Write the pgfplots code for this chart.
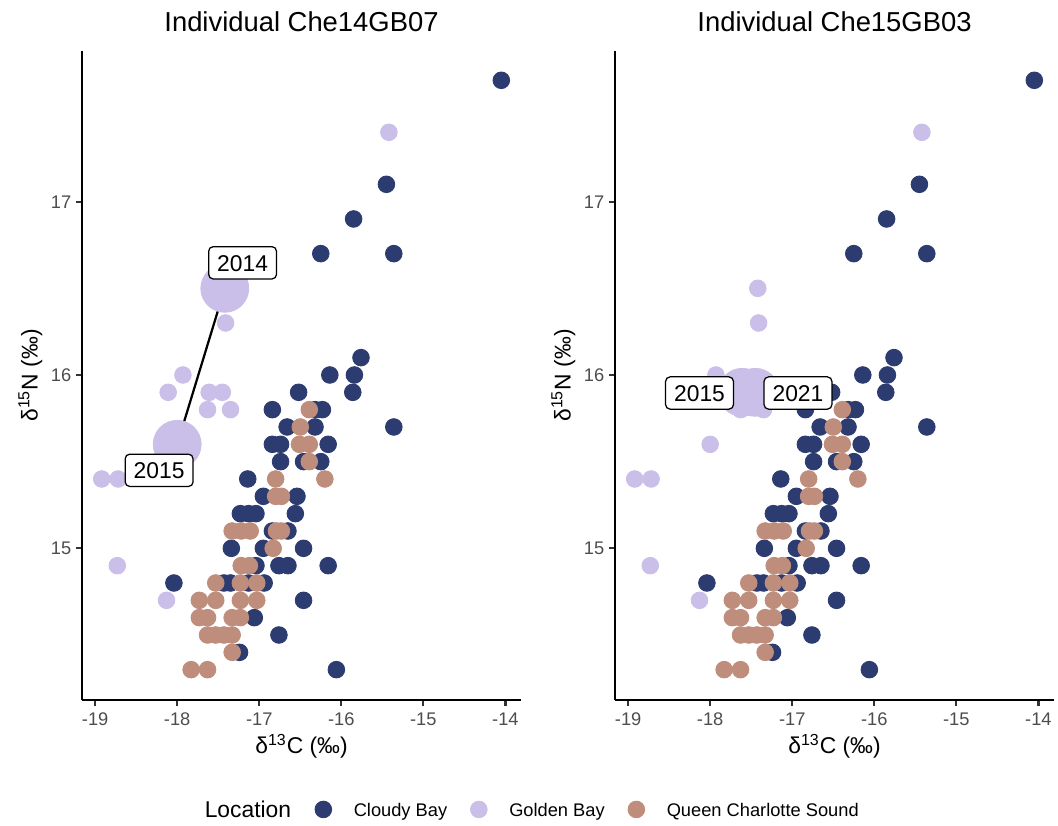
\documentclass[border=0pt]{standalone}
\usepackage{pgfplots}
\usepackage{pgfplotstable}
\pgfplotsset{compat=1.18}
\usepackage{fontspec}
\setmainfont{Liberation Sans}
\definecolor{cb}{RGB}{44,59,112}
\definecolor{gb}{RGB}{202,191,232}
\definecolor{qcs}{RGB}{191,141,124}
\definecolor{ticklab}{RGB}{77,77,77}
\definecolor{tickcol}{RGB}{51,51,51}

\pgfplotstableread{
x y
-14.05 17.7
-15.45 17.1
-15.85 16.9
-16.25 16.7
-15.36 16.7
-15.76 16.1
-16.14 16.0
-15.84 16.0
-16.52 15.9
-15.86 15.9
-16.84 15.8
-16.32 15.8
-16.23 15.8
-16.66 15.7
-16.32 15.7
-15.36 15.7
-16.84 15.6
-16.74 15.6
-16.16 15.6
-16.74 15.5
-16.46 15.5
-16.25 15.5
-17.14 15.4
-16.95 15.3
-16.54 15.3
-17.23 15.2
-17.13 15.2
-17.04 15.2
-16.56 15.2
-16.84 15.1
-16.65 15.1
-17.34 15.0
-16.95 15.0
-16.46 15.0
-17.04 14.9
-16.76 14.9
-16.65 14.9
-16.16 14.9
-18.04 14.8
-17.43 14.8
-17.35 14.8
-17.13 14.8
-16.94 14.8
-16.46 14.7
-17.06 14.6
-16.76 14.5
-17.24 14.4
-16.06 14.3
}\cloudy

\pgfplotstableread{
x y
-16.39 15.8
-16.50 15.7
-16.51 15.6
-16.39 15.6
-16.39 15.5
-16.80 15.4
-16.20 15.4
-16.80 15.3
-16.73 15.3
-17.33 15.1
-17.22 15.1
-17.11 15.1
-16.79 15.1
-16.73 15.1
-16.83 15.0
-17.22 14.9
-17.12 14.9
-17.53 14.8
-17.23 14.8
-17.03 14.8
-17.73 14.7
-17.53 14.7
-17.23 14.7
-17.03 14.7
-17.73 14.6
-17.63 14.6
-17.33 14.6
-17.23 14.6
-17.63 14.5
-17.53 14.5
-17.43 14.5
-17.33 14.5
-17.33 14.4
-17.83 14.3
-17.63 14.3
}\qcsdata

\pgfplotstableread{
x y
-15.42 17.4
-17.41 16.3
-17.93 16.0
-18.11 15.9
-17.63 15.8
-17.35 15.8
-18.92 15.4
-18.72 15.4
-18.73 14.9
-18.13 14.7
}\golden

\pgfplotstableread{
x y
-17.42 16.5
-18.00 15.6
}\indA

\pgfplotstableread{
x y
-17.61 15.9
-17.45 15.9
}\indB

\tikzset{
  lab/.style={draw=black, line width=0.6bp, fill=white, rounded corners=2.2bp, inner sep=0pt,
    minimum width=32.6bp, minimum height=15.5bp, text height=7.9bp, text depth=0pt,
    font=\fontsize{11}{13}\selectfont},
}

\pgfplotsset{
  panel/.style={
    scale only axis, width=210.72bp, height=311.6bp,
    xmin=-19.16, xmax=-13.81, ymin=14.125, ymax=17.87,
    axis x line*=bottom, axis y line*=left,
    axis line style={-, line width=1.07bp, black},
    tick align=outside, major tick length=2.75bp,
    tick style={tickcol, line width=1.07bp},
    xtick={-19,-18,-17,-16,-15,-14},
    xticklabels={-19,-18,-17,-16,-15,-14},
    ytick={15,16,17}, yticklabels={15,16,17},
    ticklabel style={font=\fontsize{8.8}{10}\selectfont, text=ticklab, inner sep=0pt, text height=6.3bp, text depth=0pt},
    xticklabel style={anchor=north},
    yticklabel style={anchor=east},
    xticklabel shift=3.1bp,
    yticklabel shift=2.2bp,
    clip=false,
    xlabel={δ\textsuperscript{13}C (‰)},
    ylabel={δ\textsuperscript{15}N (‰)},
    every axis x label/.style={at={([yshift=-25.8bp]axis description cs:0.5,0)}, anchor=base},
    every axis y label/.style={at={([xshift=-21.3bp]axis description cs:0,0.5)}, anchor=base, rotate=90},
    label style={font=\fontsize{11}{13}\selectfont},
    every axis title shift=0pt,
    every axis title/.style={at={([yshift=9.2bp]axis description cs:0.5,1)}, anchor=base, font=\fontsize{13.2}{15}\selectfont},
  },
  pt/.style={only marks, mark=*, mark size=4bp, color=#1, mark options={draw=none, fill=#1}},
  big/.style={only marks, mark=*, mark size=11.5bp, color=gb, mark options={draw=none, fill=gb}, forget plot},
}

\begin{document}
\begin{tikzpicture}
\path[use as bounding box] (0,0) rectangle (507.84bp,396bp);

\begin{axis}[panel, at={(39.36bp,60bp)}, anchor=south west,
  title={Individual Che14GB07},
  legend columns=-1, legend cell align=left,
  legend image code/.code={\draw[#1] plot coordinates {(4bp,0bp)};},
  legend style={at={(0.5308,-0.1686)}, anchor=west, draw=none, fill=none,
    inner sep=0pt, outer sep=0pt,
    nodes={inner sep=0pt, text height=6.3bp, text depth=0pt, font=\fontsize{8.8}{10}\selectfont, text=black},
    /tikz/every odd column/.append style={column sep=10.6bp},
    /tikz/every even column/.append style={column sep=11.2bp}},
]
\addplot[pt=cb] table {\cloudy};
\addplot[pt=gb] table {\golden};
\addplot[pt=qcs] table {\qcsdata};
\addplot[pt=gb, forget plot] table {\indB};
\addplot[black, line width=1.07bp, forget plot] table {\indA};
\addplot[big] table {\indA};
\legend{Cloudy Bay, Golden Bay, Queen Charlotte Sound}
\coordinate (LA) at (axis cs:-17.203,16.647);
\coordinate (LB) at (axis cs:-18.22,15.45);
\end{axis}

\begin{axis}[panel, at={(295.2bp,60bp)}, anchor=south west,
  title={Individual Che15GB03}]
\addplot[pt=cb] table {\cloudy};
\addplot[pt=gb] table {\golden};
\addplot[pt=qcs] table {\qcsdata};
\addplot[pt=gb, forget plot] table {\indA};
\addplot[black, line width=1.07bp, forget plot] table {\indB};
\addplot[big] table {\indB};
\coordinate (RA) at (axis cs:-18.13,15.896);
\coordinate (RB) at (axis cs:-16.93,15.896);
\end{axis}

\node[lab] at (LA) {2014};
\node[lab] at (LB) {2015};
\node[lab] at (RA) {2015};
\node[lab] at (RB) {2021};

\node[anchor=base west, inner sep=0pt, font=\fontsize{11}{13}\selectfont] at (98.1bp,3.84bp) {Location};
\end{tikzpicture}
\end{document}
